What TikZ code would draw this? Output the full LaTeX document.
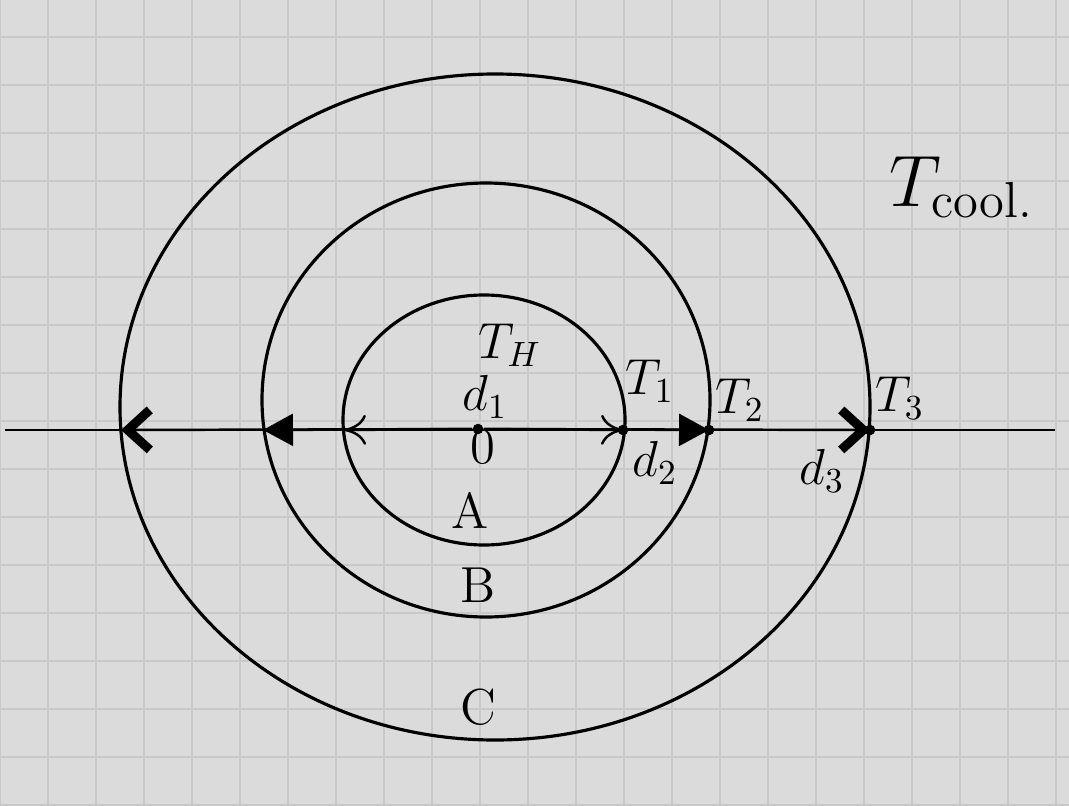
\documentclass[tikz,border=0pt]{standalone}
\usepackage{amsmath,amssymb}
\usetikzlibrary{arrows.meta}
\tikzset{
  ring/.style={draw,line width=0.9pt},
  axis/.style={draw,line width=0.7pt},
  thin arr/.style={-{To[length=2.2mm,width=3mm]},line width=0.7pt},
  mid arr/.style={-{Triangle[length=3mm,width=3.2mm]},line width=0.7pt},
  thick arr/.style={-{Straight Barb[length=2.2mm,width=4mm,line width=2.6pt]},line width=0.7pt},
  pt/.style={circle,fill,inner sep=0pt,minimum size=3pt},
  lbl/.style={font=\Large},
  reg/.style={font=\Large}
}
\begin{document}
\begin{tikzpicture}
\useasboundingbox (0,0) rectangle (10.69,8.05);
% paper
\fill[black!14] (0,0) rectangle (10.69,8.05);
\draw[black!21,step=0.48] (0,0) grid (10.69,8.05);

% regions
\draw[ring] (4.95,3.98) ellipse [x radius=3.75cm,y radius=3.33cm];
\draw[ring] (4.86,4.05) ellipse [x radius=2.24cm,y radius=2.17cm];
\draw[ring] (4.84,3.85) ellipse [x radius=1.41cm,y radius=1.25cm];

% axis
\coordinate (axl) at (0.05,3.75);
\coordinate (axr) at (10.55,3.75);
\node[pt] (o) at (4.78,3.76) {};
\coordinate (t1) at (6.23,3.75);
\coordinate (t2) at (7.09,3.75);
\coordinate (t3) at (8.70,3.75);
\coordinate (l1) at (3.44,3.75);
\coordinate (l2) at (2.63,3.75);
\coordinate (l3) at (1.21,3.75);
\draw[axis] (axl)--(axr);
\draw[thin arr] (o)--(t1); \draw[thin arr] (o)--(l1);
\draw[mid arr] (o)--(t2); \draw[mid arr] (o)--(l2);
\draw[thick arr] (o)--(t3); \draw[thick arr] (o)--(l3);
\node[pt] at (t1) {}; \node[pt] at (t2) {}; \node[pt] at (t3) {};

% labels
\node[lbl] (lth) at (5.10,4.60) {$T_H$};
\node[lbl] (ld1) at (4.85,4.08) {$d_1$};
\node[lbl] (lo) at (4.83,3.58) {$0$};
\node[lbl] (lt1) at (6.50,4.24) {$T_1$};
\node[lbl] (lt2) at (7.40,4.05) {$T_2$};
\node[lbl] (lt3) at (9.00,4.07) {$T_3$};
\node[lbl] (ld2) at (6.55,3.42) {$d_2$};
\node[lbl] (ld3) at (8.22,3.34) {$d_3$};
\node[reg] (ra) at (4.70,2.95) {A};
\node[reg] (rb) at (4.78,2.20) {B};
\node[reg] (rc) at (4.78,0.98) {C};
\node[font=\huge] (tc) at (9.62,6.18) {$T_{\text{cool.}}$};
\end{tikzpicture}
\end{document}
